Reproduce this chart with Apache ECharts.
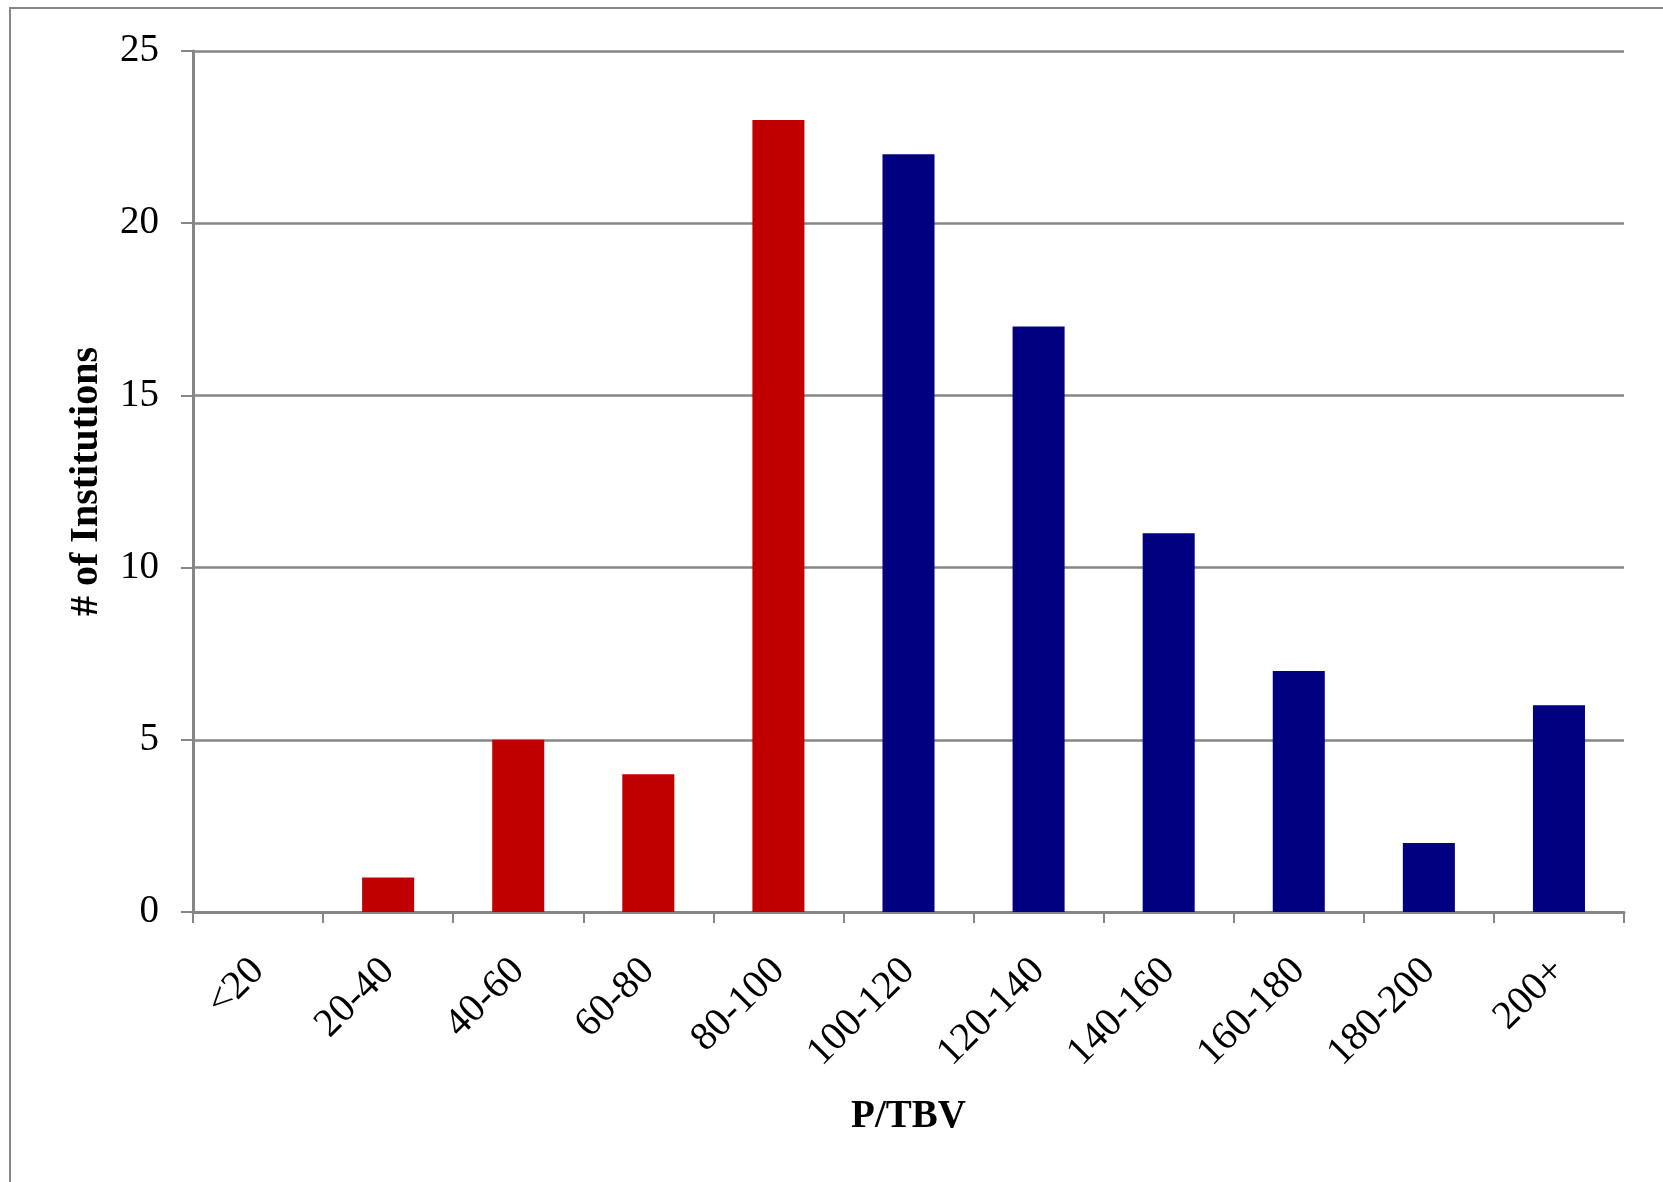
<!DOCTYPE html>
<html>
<head>
<meta charset="utf-8">
<title>P/TBV distribution</title>
<script src="https://cdn.jsdelivr.net/npm/echarts@6/dist/echarts.min.js"></script>
<style>
  html, body { margin: 0; padding: 0; background: #ffffff; }
  #chart { width: 1663px; height: 1182px; }
</style>
</head>
<body>
<div id="chart"></div>
<script>
// Price-to-tangible-book-value buckets (in %)
const categories = ['<20', '20-40', '40-60', '60-80', '80-100', '100-120', '120-140', '140-160', '160-180', '180-200', '200+'];
// Number of institutions trading below tangible book value
const belowBook = [0, 1, 5, 4, 23, '-', '-', '-', '-', '-', '-'];
// Number of institutions trading at or above tangible book value
const aboveBook = ['-', '-', '-', '-', '-', 22, 17, 11, 7, 2, 6];
// Value axis ticks
const yTicks = { min: 0, max: 25, interval: 5 };

const serif = '"Liberation Serif", "Times New Roman", Times, serif';
const gray = '#868686';

const chart = echarts.init(document.getElementById('chart'), null, { renderer: 'canvas' });

chart.setOption({
  backgroundColor: '#ffffff',
  animation: false,
  graphic: [{
    type: 'rect',
    shape: { x: 10, y: 8, width: 2000, height: 2000 },
    style: { fill: 'none', stroke: gray, lineWidth: 2 },
    silent: true,
    z: -1
  }],
  grid: { left: 193, right: 39, top: 51, bottom: 270, containLabel: false },
  xAxis: {
    type: 'category',
    data: categories,
    boundaryGap: true,
    name: 'P/TBV',
    nameLocation: 'middle',
    nameGap: 185,
    nameTextStyle: { fontFamily: serif, fontWeight: 'bold', fontSize: 39, color: '#000' },
    axisLine: { show: true, lineStyle: { color: gray, width: 3 } },
    axisTick: { show: true, length: 11, alignWithLabel: false, lineStyle: { color: gray, width: 2 } },
    axisLabel: { rotate: 45, margin: 53, fontFamily: serif, fontSize: 40, color: '#000', interval: 0 },
    splitLine: { show: false }
  },
  yAxis: {
    type: 'value',
    min: yTicks.min,
    max: yTicks.max,
    interval: yTicks.interval,
    name: '# of Institutions',
    nameLocation: 'middle',
    nameGap: 86,
    nameRotate: 90,
    nameTextStyle: { fontFamily: serif, fontWeight: 'bold', fontSize: 40, color: '#000' },
    axisLine: { show: true, lineStyle: { color: gray, width: 3 } },
    axisTick: { show: true, inside: false, length: 12, lineStyle: { color: gray, width: 2 } },
    axisLabel: { margin: 34, fontFamily: serif, fontSize: 39, color: '#000' },
    splitLine: { show: true, lineStyle: { color: gray, width: 2.5 } }
  },
  series: [
    {
      name: 'Below TBV',
      type: 'bar',
      stack: 'count',
      data: belowBook,
      barWidth: '40%',
      itemStyle: { color: '#C00000' }
    },
    {
      name: 'Above TBV',
      type: 'bar',
      stack: 'count',
      data: aboveBook,
      barWidth: '40%',
      itemStyle: { color: '#000080' }
    }
  ]
});
</script>
</body>
</html>
